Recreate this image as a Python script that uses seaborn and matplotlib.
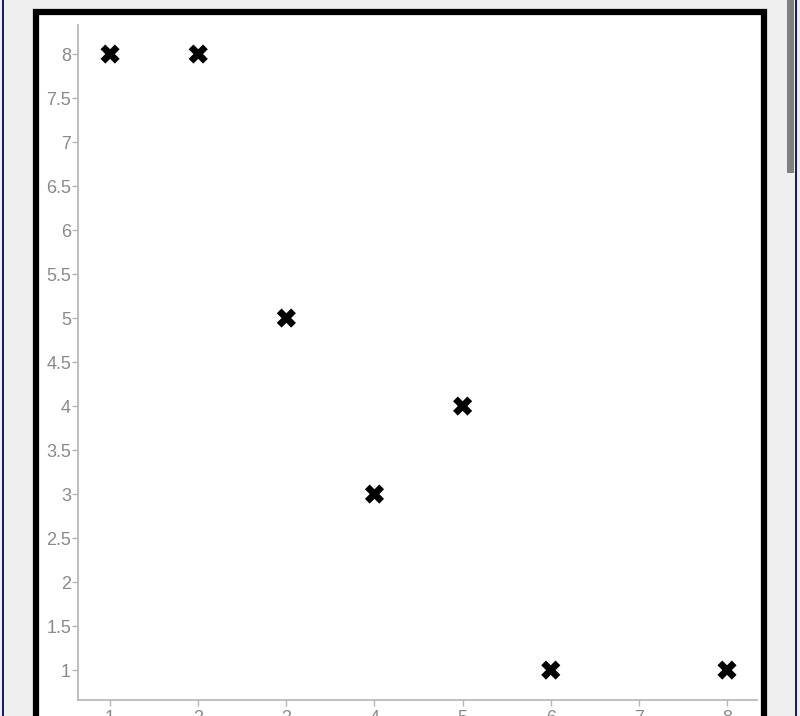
import matplotlib.pyplot as plt
import pandas as pd
import seaborn as sns
from matplotlib.patches import Rectangle

x_vals = [1, 2, 3, 4, 5, 6, 8]
y_vals = [8, 8, 5, 3, 4, 1, 1]
x_ticks = [1, 2, 3, 4, 5, 6, 7, 8]
y_ticks = [1, 1.5, 2, 2.5, 3, 3.5, 4, 4.5, 5, 5.5, 6, 6.5, 7, 7.5, 8]

W, H = 800, 716
_AXIS = "#b4b4b4"
_LABEL = "#8a8a8a"

sns.set_style("white")
plt.rcParams["font.family"] = ["Liberation Sans", "DejaVu Sans"]

df = pd.DataFrame({"x": x_vals, "y": y_vals})

fig = plt.figure(figsize=(W / 100, H / 100), dpi=100)
fig.patch.set_facecolor("#efefef")


def _px_rect(x0, y0, x1, y1, **kw):
    # rectangle in pixel coords (top-left origin), drawn behind the axes
    fig.patches.append(Rectangle((x0 / W, 1 - y1 / H), (x1 - x0) / W, (y1 - y0) / H,
                                 transform=fig.transFigure, figure=fig, zorder=-1, **kw))


# page chrome: side borders, scrollbar, white panel with thick black frame
_px_rect(2, -5, 4, H + 5, facecolor="#1c1c6e", edgecolor="none")
_px_rect(795, -5, 797, H + 5, facecolor="#1c1c6e", edgecolor="none")
_px_rect(787, -5, 794, 173, facecolor="#808080", edgecolor="none")
_px_rect(36, 12, 764, H + 20, facecolor="white", edgecolor="black", linewidth=4.5)

ax = fig.add_axes([78 / W, 16 / H, (757 - 78) / W, (700 - 25) / H])
ax.set_facecolor("none")
sns.scatterplot(data=df, x="x", y="y", marker="X", s=190, color="black",
                edgecolor="none", ax=ax, zorder=3)

ax.set_xlim(0.636, 8.34)
ax.set_ylim(0.66, 8.33)
ax.set_xticks(x_ticks)
ax.set_yticks(y_ticks)
ax.set_xticklabels([str(v) for v in x_ticks])
ax.set_yticklabels([f"{v:g}" for v in y_ticks])
ax.set_xlabel("")
ax.set_ylabel("")

for side in ("top", "right"):
    ax.spines[side].set_visible(False)
for side in ("left", "bottom"):
    ax.spines[side].set_color(_AXIS)
    ax.spines[side].set_linewidth(1.2)
ax.tick_params(axis="both", length=4, width=1, color=_AXIS, labelcolor=_LABEL,
               labelsize=13, pad=1, left=True, bottom=True)
ax.tick_params(axis="x", pad=3)

fig.savefig("out.png", dpi=100, facecolor=fig.get_facecolor())
